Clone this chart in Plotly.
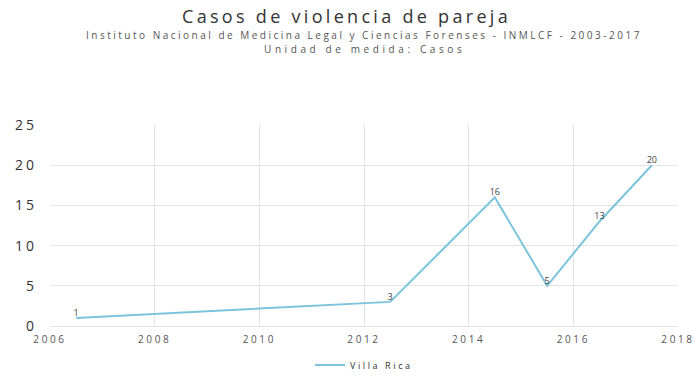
import plotly.graph_objects as go

years = [2006.5, 2012.5, 2014.5, 2015.5, 2016.5, 2017.5]
casos = [1, 3, 16, 5, 13, 20]
serie = "Villa Rica"
x_ticks = [2006, 2008, 2010, 2012, 2014, 2016, 2018]
y_ticks = [0, 5, 10, 15, 20, 25]
titulo = "Casos de violencia de pareja"
subtitulo1 = "Instituto Nacional de Medicina Legal y Ciencias Forenses - INMLCF - 2003-2017"
subtitulo2 = "Unidad de medida: Casos"


def sp(t, ls):
    return f"<span style='letter-spacing:{ls}px'>{t}</span>"


W, H = 693, 379
L, R, T, B = 50, 15, 125, 53
ph = H - T - B


def py(pix):
    return (H - B - pix) / ph


fig = go.Figure()
fig.add_trace(go.Scatter(
    x=years, y=casos, mode="lines+text", name=sp(serie, 2.6),
    text=[str(v) for v in casos], textposition="top center",
    textfont=dict(size=9, color="#444444", family="Open Sans"),
    line=dict(color="#7cc3dc", width=2),
    cliponaxis=False,
))

fig.update_layout(
    width=W, height=H,
    paper_bgcolor="white", plot_bgcolor="white",
    margin=dict(l=L, r=R, t=T, b=B, autoexpand=False),
    font=dict(family="Open Sans", color="#333333"),
    title=dict(
        text=sp(titulo, 3.3),
        x=0.5, xanchor="center", y=1 - 17 / H, yanchor="middle",
        font=dict(size=18, color="#333333", family="Open Sans"),
    ),
    annotations=[
        dict(text=sp(subtitulo1, 2.5), x=0.5, xref="paper", y=py(35), yref="paper",
             xanchor="center", yanchor="middle", showarrow=False,
             font=dict(size=10, color="#555555", family="Open Sans")),
        dict(text=sp(subtitulo2, 3.6), x=0.5, xref="paper", y=py(49), yref="paper",
             xanchor="center", yanchor="middle", showarrow=False,
             font=dict(size=10, color="#555555", family="Open Sans")),
    ],
    showlegend=True,
    legend=dict(orientation="h", x=0.5, xanchor="center", y=py(365), yanchor="middle",
                font=dict(size=9, color="#333333", family="Open Sans")),
    xaxis=dict(range=[2006, 2018], tickvals=x_ticks, ticktext=[sp(v, 2.6) for v in x_ticks],
               showgrid=True, gridcolor="#e3e3e3", zeroline=False, showline=True,
               linecolor="#e3e3e3", tickfont=dict(size=10, color="#555555"), ticks="",
               ticklabelstandoff=4, ticklabeloverflow="allow"),
    yaxis=dict(range=[0, 25], tickvals=y_ticks, ticktext=[sp(v, 3) for v in y_ticks],
               showgrid=True, gridcolor="#e3e3e3",
               zeroline=False, tickfont=dict(size=14, color="#333333"), ticks="",
               ticklabelstandoff=12),
)

fig.write_html("out.html", config={"displayModeBar": False},
               post_script="document.body.style.margin='0';")
